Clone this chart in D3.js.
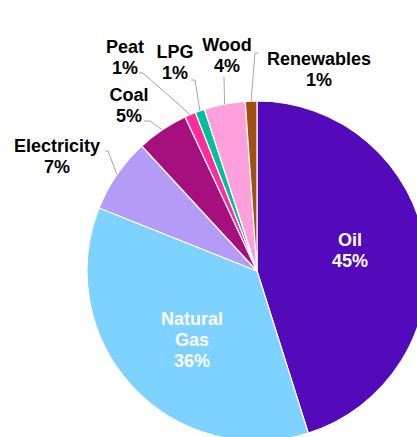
<!DOCTYPE html>
<html>
<head>
<meta charset="utf-8">
<script src="https://cdn.jsdelivr.net/npm/d3@7"></script>
<style>
  html, body { margin: 0; padding: 0; background: #fff; }
  svg { display: block; }
  text { font-family: "Liberation Sans", Arial, sans-serif; font-weight: bold; font-size: 18px; }
</style>
</head>
<body>
<div id="root"></div>
<script>
// data, clockwise from 12 o'clock
const categories = ["Oil", "Natural Gas", "Electricity", "Coal", "Peat", "LPG", "Wood", "Renewables"];
const values = [45.1, 35.9, 7.1, 4.9, 1.05, 0.9, 3.9, 1.1];
const percentLabels = ["45%", "36%", "7%", "5%", "1%", "1%", "4%", "1%"];
const colors = ["#520ABB", "#7DD2FF", "#B39BF7", "#A5107E", "#FF2D9B", "#00BFA0", "#FFA0DC", "#A0500F"];

const CONFIG = {
  width: 417,
  height: 437,
  cx: 257,
  cy: 271,
  radius: 170,
  lineHeight: 21
};

// label placement: inside labels are white, outside ones get a leader line
const labelLayout = {
  "Oil":         { x: 350, y: 246, inside: true, lines: ["Oil"] },
  "Natural Gas": { x: 192, y: 325, inside: true, lines: ["Natural", "Gas"] },
  "Electricity": { x: 57,  y: 152, line: [[105, 151], [108, 151]], lines: ["Electricity"] },
  "Coal":        { x: 129, y: 101, line: [[144, 121], [150, 121]], lines: ["Coal"] },
  "Peat":        { x: 125, y: 53,  line: [[139, 73], [143, 73]], lines: ["Peat"] },
  "LPG":         { x: 175, y: 58,  line: [[191, 80], [195, 80]], lines: ["LPG"] },
  "Wood":        { x: 227, y: 51,  line: [[224, 77]], lines: ["Wood"] },
  "Renewables":  { x: 319, y: 65,  line: [[258, 53], [255, 53]], lines: ["Renewables"] }
};

function drawChart() {
  const svg = d3.select("#root")
    .append("svg")
    .attr("width", CONFIG.width)
    .attr("height", CONFIG.height);

  const data = categories.map((c, i) => ({ name: c, value: values[i], pct: percentLabels[i], color: colors[i] }));

  const pie = d3.pie()
    .value(d => d.value)
    .sort(null);

  const arc = d3.arc()
    .innerRadius(0)
    .outerRadius(CONFIG.radius);

  const arcs = pie(data);

  const g = svg.append("g")
    .attr("transform", `translate(${CONFIG.cx}, ${CONFIG.cy})`);

  g.selectAll("path")
    .data(arcs)
    .enter()
    .append("path")
    .attr("d", arc)
    .attr("fill", d => d.data.color)
    .attr("stroke", "#fff")
    .attr("stroke-width", 1.2)
    .attr("stroke-linejoin", "round");

  // leader lines
  arcs.forEach(a => {
    const lay = labelLayout[a.data.name];
    if (lay.inside) return;
    const mid = (a.startAngle + a.endAngle) / 2;
    const end = [
      CONFIG.cx + CONFIG.radius * Math.sin(mid),
      CONFIG.cy - CONFIG.radius * Math.cos(mid)
    ];
    const pts = lay.line.concat([end]);
    svg.append("path")
      .attr("d", d3.line()(pts))
      .attr("fill", "none")
      .attr("stroke", "#A6A6A6")
      .attr("stroke-width", 1);
  });

  // labels
  arcs.forEach(a => {
    const lay = labelLayout[a.data.name];
    const lines = lay.lines.concat([a.data.pct]);
    const t = svg.append("text")
      .attr("text-anchor", "middle")
      .attr("fill", lay.inside ? "#fff" : "#000");
    lines.forEach((s, i) => {
      t.append("tspan")
        .attr("x", lay.x)
        .attr("y", lay.y + i * CONFIG.lineHeight)
        .text(s);
    });
  });
}

drawChart();
</script>
</body>
</html>
